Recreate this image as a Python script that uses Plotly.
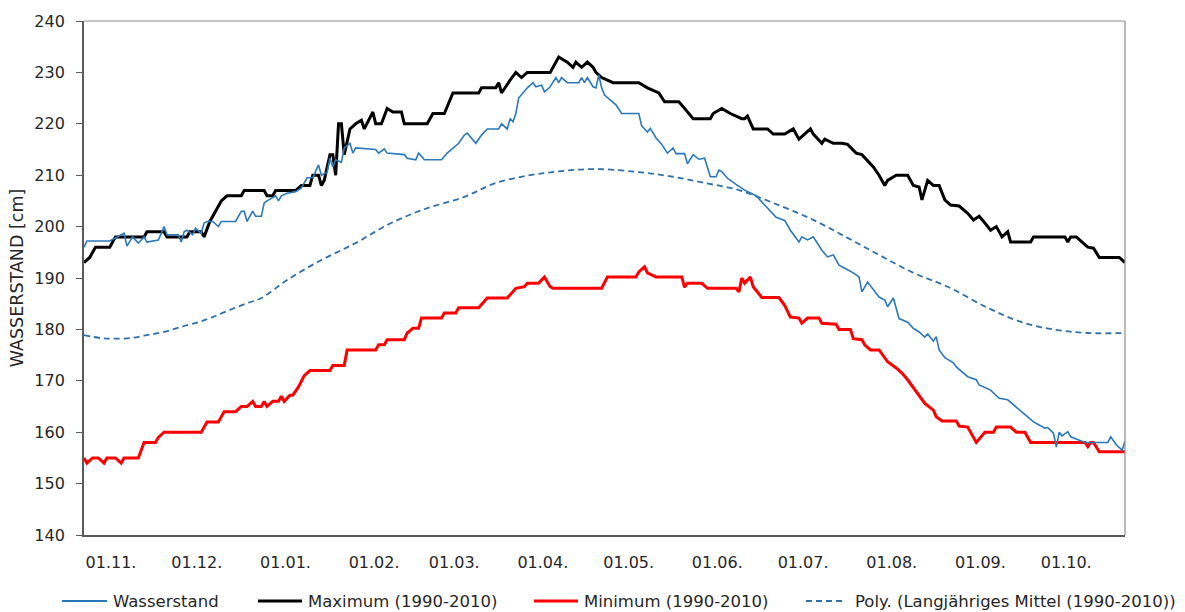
import pandas as pd
import plotly.graph_objects as go

# Hydrological year: day offsets counted from 1 November
START = "2009-11-01"

# Wasserstand (current year), daily gauge readings in cm
wasser_tag = [0, 1, 9, 11, 14, 15, 17, 19, 21, 22, 26, 28, 29, 33, 34, 35, 36, 38, 39, 41,
              42, 43, 45, 47, 48, 53, 55, 56, 57, 59, 60, 62, 63, 64, 67, 68, 69, 71, 74, 76,
              78, 80, 82, 83, 85, 86, 87, 88, 90, 91, 93, 94, 95, 102, 103, 105, 106, 112, 113, 116,
              117, 119, 125, 127, 129, 131, 133, 134, 137, 139, 141, 145, 146, 148, 149, 150, 151, 152, 155, 157,
              158, 160, 161, 163, 165, 166, 167, 169, 173, 174, 175, 176, 178, 179, 180, 181, 182, 184, 186, 188,
              194, 195, 197, 198, 200, 202, 204, 206, 207, 210, 211, 213, 215, 217, 219, 221, 222, 223, 225, 228,
              231, 235, 237, 240, 242, 245, 247, 250, 251, 253, 255, 258, 260, 262, 264, 267, 269, 271, 272, 274,
              276, 278, 280, 281, 283, 285, 288, 290, 292, 294, 295, 297, 298, 299, 301, 304, 305, 309, 312, 313,
              317, 319, 320, 323, 325, 328, 330, 332, 334, 336, 337, 339, 340, 341, 342, 344, 345, 348, 350, 358,
              359, 361, 363, 364]
wasser_cm = [196, 197.2, 197.2, 197.8, 198.7, 196.2, 198, 196.8, 198, 197, 197.4, 200, 198.4, 198.4, 197, 199, 199.3, 198.4, 199.7, 198.7,
             200.7, 201, 201, 200, 201, 201, 203, 203, 201, 203, 202, 202, 204.6, 205, 206, 205, 206, 206.5, 206.8, 207.5,
             209.5, 209.5, 212, 210, 210.6, 213.3, 211.6, 213, 212.5, 215.3, 216.2, 214.3, 215.3, 215, 214.3, 215.1, 214.3, 214, 213.3, 213,
             214.3, 213, 213, 214.3, 215.3, 216.2, 217.8, 218.2, 216.2, 217.8, 219, 219, 220, 219, 221, 220.4, 222, 225, 227, 228,
             227.2, 227.5, 226.2, 227.2, 229, 228, 229, 228, 228, 229, 228, 229, 227.2, 227, 229.5, 227, 225.6, 224.6, 223.7, 222,
             222, 219.6, 218.4, 219.1, 217.3, 216, 214.3, 215.3, 214.2, 214.2, 212.2, 214, 213.1, 213.3, 209.7, 209.7, 211, 210.7, 209.4, 208.2,
             207.1, 206, 204.8, 203.2, 201.8, 201.2, 199.3, 197, 198, 197.4, 198, 195.4, 194.1, 194.5, 192.5, 191.6, 191, 190.2, 187.3, 189.2,
             187.7, 186.3, 185.7, 184.4, 186.1, 182.1, 181.4, 180.2, 179.5, 178.5, 179.1, 177.7, 178.6, 176, 174.5, 173.5, 172.7, 170.8, 170.2, 169.2,
             168.2, 167.2, 166.6, 166.3, 165.3, 163.9, 163, 162, 161.4, 160.8, 160.9, 159.8, 157.1, 160, 159.3, 160.1, 159.1, 158.5, 158, 158,
             159.1, 157.5, 156.5, 158.3]

# Maximum 1990-2010
max_tag = [0, 2, 4, 9, 11, 21, 22, 28, 29, 36, 37, 41, 42, 44, 46, 48, 50, 55, 56, 63,
           64, 66, 67, 74, 76, 79, 80, 82, 83, 84, 86, 87, 88, 89, 90, 91, 93, 95, 97, 98,
           101, 102, 104, 106, 108, 111, 112, 120, 122, 126, 129, 138, 139, 144, 145, 146, 149, 151, 153, 155,
           163, 166, 169, 171, 172, 174, 176, 178, 179, 181, 185, 194, 197, 201, 203, 208, 210, 213, 219, 220,
           223, 226, 230, 231, 232, 234, 239, 241, 245, 248, 250, 254, 255, 258, 259, 262, 265, 267, 270, 272,
           276, 278, 280, 281, 284, 288, 290, 292, 293, 295, 297, 299, 301, 303, 306, 309, 311, 313, 315, 317,
           319, 321, 323, 324, 331, 332, 343, 344, 345, 347, 349, 351, 353, 355, 362, 364]
max_cm = [193, 194, 196, 196, 198, 198, 199, 199, 198, 198, 199, 199, 198, 201, 203, 205, 206, 206, 207, 207,
          206, 206, 207, 207, 208, 208, 210, 210, 208, 209, 214, 214, 210, 220, 220, 214, 219, 220, 220.7, 219,
          222.3, 220, 220, 223, 222.3, 222.3, 220, 220, 222, 222, 226, 226, 227, 227, 228, 226, 228.5, 230, 229, 230,
          230, 233, 232, 231, 232, 231, 232, 231, 230, 229, 228, 228, 227, 226, 224.3, 224.3, 223, 221, 221, 222,
          223, 222, 221, 221, 221.5, 219, 219, 218, 218, 219, 217, 219, 218, 216.2, 217, 216.2, 216.2, 216, 214.3, 214,
          211.6, 210, 208, 209, 210, 210, 208, 207.7, 205.2, 209, 208, 208, 205.2, 204.2, 204, 202.6, 201.3, 202, 200.7, 199.3,
          200, 198, 199, 197, 197, 198, 198, 197, 198, 198, 197, 196, 195.8, 194, 194, 193]

# Minimum 1990-2010
min_tag = [0, 1, 3, 5, 7, 8, 11, 13, 14, 19, 21, 25, 26, 28, 41, 43, 47, 49, 53, 55,
           57, 59, 60, 62, 63, 64, 66, 68, 69, 70, 72, 73, 75, 77, 79, 86, 87, 91, 92, 102,
           103, 105, 106, 112, 113, 115, 117, 118, 125, 126, 130, 131, 138, 141, 148, 150, 151, 154, 155, 159,
           161, 163, 164, 181, 183, 193, 194, 196, 197, 200, 209, 210, 211, 216, 218, 228, 229, 230, 231, 233,
           234, 237, 243, 245, 247, 250, 251, 253, 257, 258, 263, 264, 268, 269, 272, 273, 275, 278, 281, 284,
           286, 288, 291, 292, 294, 297, 298, 300, 305, 306, 309, 312, 315, 318, 319, 324, 326, 329, 331, 350,
           351, 352, 353, 355, 364]
min_cm = [155, 154, 155, 155, 154, 155, 155, 154, 155, 155, 158, 158, 159, 160, 160, 162, 162, 164, 164, 165,
          165, 166, 165, 165, 166, 165, 166, 166, 167, 166, 167.2, 167.2, 168.8, 171, 172, 172, 173, 173, 176, 176,
          177, 177, 178, 178, 179.3, 180.2, 180.2, 182.2, 182.2, 183.2, 183.2, 184.2, 184.2, 186.1, 186.1, 187.3, 188, 188.3, 189, 189,
          190.2, 188.3, 188, 188, 190.2, 190.2, 191.2, 192.2, 191, 190.2, 190.2, 188.2, 189, 189, 188, 188, 187.3, 190, 189, 190.2,
          188.3, 186.2, 186.2, 184.7, 182.4, 182.2, 181.2, 182.2, 182.2, 181.2, 181, 180, 180, 178.2, 178, 177, 176, 176, 173.7, 172.5,
          171.5, 170.2, 167.8, 167.2, 165.6, 164.3, 163, 162.2, 162.2, 161.2, 161, 158, 160, 160, 161, 161, 160, 160, 158, 158,
          157.2, 158, 158, 156.2, 156.2]

# Polynomial trend of the long-term mean 1990-2010
poly_tag = [0, 6, 10, 16, 22, 28, 34, 40, 45, 51, 57, 62, 71, 83, 95, 106, 118, 133, 144, 156,
            167, 179, 194, 206, 217, 229, 241, 255, 267, 278, 290, 302, 316, 328, 340, 351, 364]
poly_cm = [178.9, 178.3, 178.2, 178.3, 178.9, 179.5, 180.5, 181.4, 182.4, 183.8, 185.1, 186.1, 189.6, 193.5, 196.8, 200.3, 203.2, 205.8, 208.5, 210,
           210.8, 211.2, 210.6, 209.7, 208.5, 207.1, 204.6, 201.3, 197.8, 194.5, 191, 188.3, 184.2, 181.4, 179.9, 179.3, 179.3]

# Axis labels
month_ticks = pd.date_range(START, periods=12, freq="MS")
month_labels = ["01.11.", "01.12.", "01.01.", "01.02.", "01.03.", "01.04.",
                "01.05.", "01.06.", "01.07.", "01.08.", "01.09.", "01.10."]
y_title = "WASSERSTAND [cm]"
legend_labels = ["Wasserstand", "Maximum (1990-2010)", "Minimum (1990-2010)",
                 "Poly. (Langjähriges Mittel (1990-2010))"]

BLUE = "#2b78b9"
DASH_BLUE = "#2f70a8"
FONT = "DejaVu Sans"
TEXT = "#262626"


def to_dates(days):
    start = pd.Timestamp(START)
    return [start + pd.Timedelta(days=d) for d in days]


styles = [
    dict(color=BLUE, width=1.6),
    dict(color="black", width=3),
    dict(color="#ff0000", width=3),
    dict(color=DASH_BLUE, width=1.8, dash="6px,4px"),
]
series = [(wasser_tag, wasser_cm, "linear"), (max_tag, max_cm, "linear"),
          (min_tag, min_cm, "linear"), (poly_tag, poly_cm, "spline")]

fig = go.Figure()
# draw order: trend, minimum, maximum, gauge on top
for i in [3, 2, 1, 0]:
    tag, cm, shape = series[i]
    fig.add_trace(go.Scatter(x=to_dates(tag), y=cm, mode="lines", name=legend_labels[i],
                             line=dict(shape=shape, **styles[i]), showlegend=False))

W, H = 1185, 612
L, R, T, B = 84, 60, 21, 77
pw, ph = W - L - R, H - T - B


def px(x):
    return (x - L) / pw


def py(y):
    return (H - B - y) / ph


shapes = [
    # top and right frame of the plot area
    dict(type="line", xref="paper", yref="paper", x0=0, x1=1, y0=1, y1=1,
         line=dict(color="#8c8c8c", width=1.2)),
    dict(type="line", xref="paper", yref="paper", x0=1, x1=1, y0=0, y1=1,
         line=dict(color="#8c8c8c", width=1.2)),
]
annotations = []
legend_keys = [(62, 107, 111), (258, 302, 306), (534, 578, 582), (806, 844, 853)]
legend_y = 601
for i, (x0, x1, xt) in enumerate(legend_keys):
    st = dict(styles[i])
    if i == 0:
        st["width"] = 2
    shapes.append(dict(type="line", xref="paper", yref="paper", x0=px(x0), x1=px(x1),
                       y0=py(legend_y), y1=py(legend_y), line=st))
    annotations.append(dict(xref="paper", yref="paper", x=px(xt), y=py(legend_y),
                            text=legend_labels[i], showarrow=False, xanchor="left",
                            yanchor="middle", font=dict(family=FONT, size=16.5, color=TEXT)))

fig.update_layout(
    width=W, height=H,
    margin=dict(l=L, r=R, t=T, b=B, autoexpand=False),
    paper_bgcolor="white", plot_bgcolor="white",
    font=dict(family=FONT, size=16, color=TEXT),
    shapes=shapes, annotations=annotations,
    showlegend=False,
)
fig.update_xaxes(
    range=[pd.Timestamp(START), pd.Timestamp(START) + pd.Timedelta(days=364)],
    tickvals=month_ticks, ticktext=month_labels, ticklabelshift=27,
    ticks="", showgrid=False, zeroline=False,
    showline=True, linecolor="#595959", linewidth=1.8,
    tickfont=dict(family=FONT, size=16, color=TEXT), ticklabelstandoff=12,
)
fig.update_yaxes(
    range=[140, 240], dtick=10, tick0=140,
    ticks="outside", ticklen=6, tickcolor="#595959", tickwidth=1.2,
    showgrid=False, zeroline=False,
    showline=True, linecolor="#595959", linewidth=1.8,
    tickfont=dict(family=FONT, size=16, color=TEXT), ticklabelstandoff=8,
    title=dict(text=y_title, font=dict(family=FONT, size=17.5, color=TEXT), standoff=6),
)

fig.write_html("out.html")
